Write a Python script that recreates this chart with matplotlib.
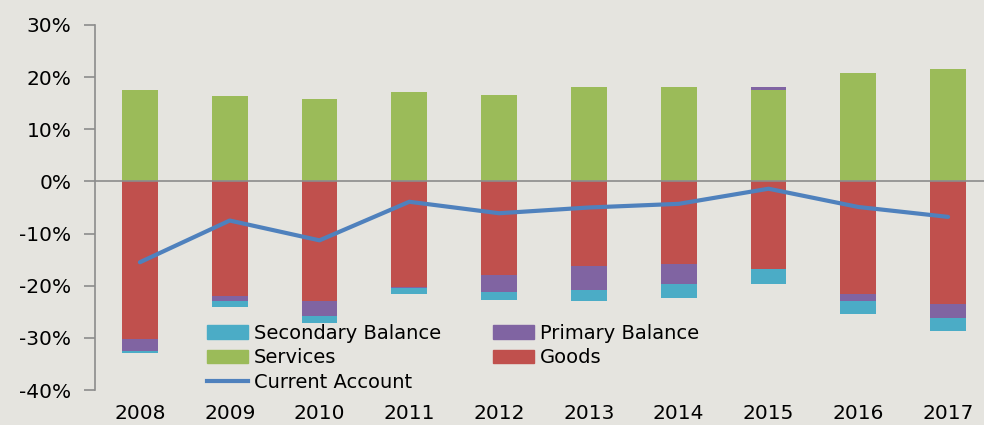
import numpy as np
import matplotlib
matplotlib.use('Agg')
import matplotlib.pyplot as plt
from matplotlib.ticker import FuncFormatter
from matplotlib.patches import Patch
from matplotlib.lines import Line2D

# ── palette ──
BG       = '#E5E4DF'
GREEN    = '#9BBB59'
RED      = '#C0504D'
PURPLE   = '#8064A2'
CYAN     = '#4BACC6'
BLUE     = '#4F81BD'
AXGRAY   = '#8C8C8C'

plt.rcParams['font.family'] = ['DejaVu Sans']

# ── data (% of GDP) ──
years     = ['2008', '2009', '2010', '2011', '2012', '2013', '2014', '2015', '2016', '2017']
services  = [17.5, 16.3, 15.8, 17.2, 16.6, 18.1, 18.1, 17.5, 20.7, 21.6]
goods     = [-30.3, -21.9, -23.0, -20.3, -18.0, -16.3, -15.9, -16.8, -21.5, -23.6]
primary   = [-2.3, -1.1, -2.9, -0.1, -3.3, -4.6, -3.8, 0.6, -1.5, -2.6]
secondary = [-0.3, -1.1, -1.2, -1.2, -1.4, -2.1, -2.6, -2.9, -2.5, -2.4]
current   = [-15.5, -7.5, -11.3, -3.9, -6.1, -5.0, -4.3, -1.4, -4.9, -6.8]

fig = plt.figure(figsize=(9.84, 4.25), dpi=100)
fig.patch.set_facecolor(BG)
ax = fig.add_axes([95 / 984, 35 / 425, 889 / 984, 365 / 425])
ax.set_facecolor(BG)

x = np.arange(len(years))
width = 0.40
pos_base = np.zeros(len(years))
neg_base = np.zeros(len(years))
for vals, col in [(services, GREEN), (goods, RED), (primary, PURPLE), (secondary, CYAN)]:
    v = np.array(vals, dtype=float)
    base = np.where(v >= 0, pos_base, neg_base)
    ax.bar(x, v, width, bottom=base, color=col, zorder=2)
    pos_base = pos_base + np.where(v >= 0, v, 0)
    neg_base = neg_base + np.where(v < 0, v, 0)

ax.axhline(0, color=AXGRAY, lw=1.2, zorder=3)
ax.plot(x, current, color=BLUE, lw=3, zorder=4, solid_capstyle='round')

ax.set_xlim(-0.5, 9.4)
ax.set_ylim(-40, 30)
ax.set_yticks(np.arange(-40, 31, 10))
ax.yaxis.set_major_formatter(FuncFormatter(lambda v, p: f'{v:.0f}%'))
ax.set_xticks(x)
ax.set_xticklabels(years)
ax.tick_params(axis='y', direction='out', length=8, width=1.2, color=AXGRAY,
               labelsize=14.5, pad=9)
ax.tick_params(axis='x', length=0, labelsize=14.5, pad=10)
for s in ['top', 'right', 'bottom']:
    ax.spines[s].set_visible(False)
ax.spines['left'].set_color(AXGRAY)
ax.spines['left'].set_linewidth(1.2)

handles = [Patch(color=CYAN), Patch(color=GREEN), Line2D([], [], color=BLUE, lw=3),
           Patch(color=PURPLE), Patch(color=RED)]
labels = ['Secondary Balance', 'Services', 'Current Account', 'Primary Balance', 'Goods']
ax.legend(handles, labels, ncol=2, loc='upper left',
          bbox_to_anchor=(207 / 984, 1 - 324 / 425), bbox_transform=fig.transFigure,
          frameon=False, fontsize=14, handlelength=2.1, handletextpad=0.3,
          columnspacing=2.7, labelspacing=0.28, borderpad=0, borderaxespad=0)

fig.savefig('out.png', dpi=100, facecolor=BG)
